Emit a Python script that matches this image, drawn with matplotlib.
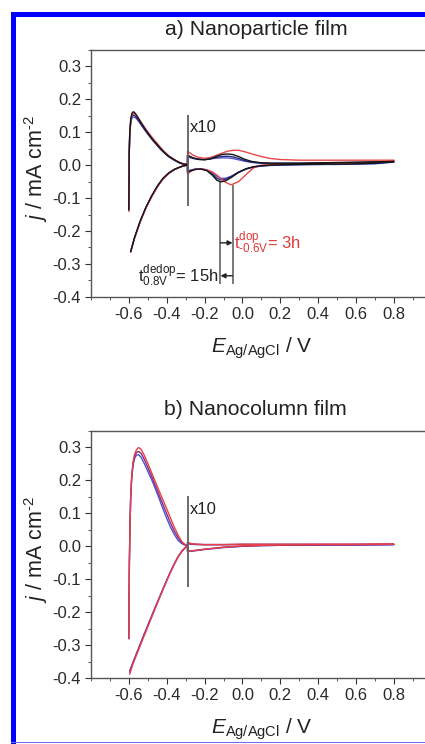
import numpy as np
import matplotlib
matplotlib.use("Agg")
import matplotlib.pyplot as plt
from matplotlib.patches import Rectangle
from matplotlib.ticker import MultipleLocator, FixedLocator

plt.rcParams['font.family'] = ['Liberation Sans', 'DejaVu Sans']
plt.rcParams['mathtext.fontset'] = 'custom'
plt.rcParams['mathtext.rm'] = 'Liberation Sans'
plt.rcParams['mathtext.it'] = 'Liberation Sans:italic'
plt.rcParams['axes.unicode_minus'] = False

# ---------------- data: panel a (nanoparticle film) ----------------
# x10 break in potential
v_break = -0.29

# anodic scan, left part (true current)
va_an_left = [-0.600, -0.599, -0.598, -0.595, -0.590, -0.584, -0.577, -0.570, -0.560, -0.545,
              -0.530, -0.510, -0.490, -0.470, -0.450, -0.430, -0.410, -0.390, -0.370, -0.350,
              -0.330, -0.310, -0.290]
# anodic scan, right part (shown x10)
va_an_right = [-0.290, -0.280, -0.260, -0.230, -0.200, -0.170, -0.140, -0.110, -0.080, -0.050,
               -0.020, 0.010, 0.050, 0.100, 0.150, 0.200, 0.300, 0.400, 0.500, 0.600, 0.700, 0.800]
# cathodic scan, right part (shown x10)
va_ca_right = [0.800, 0.700, 0.600, 0.500, 0.400, 0.300, 0.200, 0.150, 0.100, 0.060, 0.020,
               -0.020, -0.060, -0.090, -0.115, -0.135, -0.160, -0.190, -0.220, -0.250, -0.275, -0.290]
# cathodic scan, left part (true current)
va_ca_left = [-0.290, -0.310, -0.330, -0.360, -0.390, -0.420, -0.450, -0.480, -0.510, -0.540,
              -0.570, -0.590]

a_black = dict(
    an_left=[-0.135, -0.05, 0.04, 0.10, 0.14, 0.157, 0.162, 0.160, 0.152, 0.138, 0.124, 0.106,
             0.090, 0.075, 0.062, 0.049, 0.037, 0.027, 0.020, 0.013, 0.007, 0.003, 0.002],
    an_right=[0.030, 0.027, 0.021, 0.017, 0.016, 0.019, 0.026, 0.032, 0.034, 0.032, 0.026, 0.018,
              0.011, 0.007, 0.006, 0.006, 0.006, 0.007, 0.008, 0.009, 0.010, 0.011],
    ca_right=[0.011, 0.006, 0.004, 0.003, 0.003, 0.002, 0.001, 0.000, -0.002, -0.005, -0.011,
              -0.022, -0.038, -0.048, -0.051, -0.046, -0.030, -0.016, -0.012, -0.013, -0.018, -0.022],
    ca_left=[0.000, -0.002, -0.006, -0.013, -0.024, -0.040, -0.064, -0.094, -0.128, -0.170,
             -0.220, -0.263],
)
a_navy = dict(
    an_left=[-0.135, -0.05, 0.035, 0.095, 0.132, 0.148, 0.152, 0.151, 0.145, 0.133, 0.120, 0.103,
             0.088, 0.073, 0.060, 0.047, 0.036, 0.026, 0.019, 0.012, 0.006, 0.003, 0.002],
    an_right=[0.030, 0.027, 0.022, 0.018, 0.017, 0.019, 0.023, 0.026, 0.027, 0.025, 0.020, 0.014,
              0.009, 0.006, 0.005, 0.005, 0.005, 0.006, 0.007, 0.008, 0.009, 0.010],
    ca_right=[0.010, 0.005, 0.004, 0.003, 0.002, 0.002, 0.001, 0.000, -0.002, -0.005, -0.011,
              -0.021, -0.035, -0.043, -0.045, -0.040, -0.027, -0.015, -0.012, -0.013, -0.017, -0.020],
    ca_left=[0.000, -0.002, -0.006, -0.013, -0.025, -0.041, -0.065, -0.095, -0.129, -0.171,
             -0.221, -0.262],
)
a_blue = dict(
    an_left=[-0.135, -0.05, 0.03, 0.09, 0.127, 0.142, 0.146, 0.146, 0.141, 0.130, 0.118, 0.102,
             0.087, 0.073, 0.060, 0.047, 0.036, 0.026, 0.018, 0.012, 0.006, 0.003, 0.002],
    an_right=[0.025, 0.023, 0.020, 0.018, 0.018, 0.019, 0.021, 0.022, 0.022, 0.020, 0.016, 0.012,
              0.008, 0.006, 0.005, 0.005, 0.005, 0.006, 0.006, 0.007, 0.008, 0.009],
    ca_right=[0.009, 0.004, 0.003, 0.002, 0.002, 0.001, 0.000, -0.001, -0.003, -0.006, -0.012,
              -0.022, -0.034, -0.040, -0.040, -0.034, -0.023, -0.014, -0.011, -0.012, -0.015, -0.018],
    ca_left=[0.000, -0.002, -0.006, -0.014, -0.025, -0.042, -0.066, -0.096, -0.130, -0.172,
             -0.222, -0.262],
)
a_red = dict(
    an_left=[-0.14, -0.05, 0.035, 0.095, 0.135, 0.152, 0.157, 0.157, 0.151, 0.139, 0.126, 0.109,
             0.094, 0.079, 0.066, 0.052, 0.040, 0.029, 0.021, 0.014, 0.008, 0.004, 0.002],
    an_right=[0.043, 0.038, 0.030, 0.023, 0.021, 0.023, 0.029, 0.036, 0.042, 0.045, 0.045, 0.041,
              0.034, 0.026, 0.020, 0.017, 0.015, 0.015, 0.015, 0.015, 0.015, 0.015],
    ca_right=[0.012, 0.008, 0.006, 0.005, 0.005, 0.004, 0.003, 0.002, 0.000, -0.008, -0.028,
              -0.050, -0.060, -0.052, -0.040, -0.030, -0.020, -0.014, -0.012, -0.013, -0.019, -0.028],
    ca_left=[0.000, -0.002, -0.006, -0.014, -0.026, -0.043, -0.067, -0.097, -0.131, -0.172,
             -0.222, -0.262],
)

# ---------------- data: panel b (nanocolumn film) ----------------
vb_an_left = [-0.600, -0.599, -0.597, -0.594, -0.590, -0.585, -0.578, -0.570, -0.560, -0.548,
              -0.535, -0.520, -0.500, -0.480, -0.460, -0.440, -0.420, -0.400, -0.380, -0.360,
              -0.340, -0.320, -0.305, -0.290]
vb_an_right = [-0.290, -0.270, -0.240, -0.200, -0.150, -0.100, 0.000, 0.100, 0.200, 0.400, 0.600, 0.800]
vb_ca_right = [0.800, 0.600, 0.400, 0.200, 0.100, 0.000, -0.100, -0.150, -0.200, -0.240, -0.270, -0.290]
vb_ca_left = [-0.290, -0.300, -0.320, -0.340, -0.360, -0.380, -0.400, -0.420, -0.440, -0.460,
              -0.480, -0.500, -0.520, -0.540, -0.560, -0.580, -0.595]

b_blue = dict(
    an_left=[-0.280, -0.180, -0.050, 0.060, 0.150, 0.205, 0.245, 0.266, 0.277, 0.278, 0.270,
             0.253, 0.228, 0.203, 0.175, 0.145, 0.114, 0.085, 0.058, 0.036, 0.018, 0.008, 0.004, 0.002],
    an_right=[0.008, 0.006, 0.005, 0.005, 0.005, 0.005, 0.005, 0.005, 0.005, 0.005, 0.005, 0.005],
    ca_right=[0.005, 0.004, 0.004, 0.003, 0.002, 0.000, -0.004, -0.007, -0.010, -0.013, -0.015, -0.016],
    ca_left=[0.000, -0.003, -0.015, -0.032, -0.053, -0.077, -0.103, -0.130, -0.157, -0.184,
             -0.212, -0.240, -0.268, -0.297, -0.326, -0.355, -0.378],
)
b_purple = dict(
    an_left=[-0.280, -0.180, -0.050, 0.060, 0.150, 0.207, 0.250, 0.272, 0.285, 0.288, 0.282,
             0.266, 0.240, 0.213, 0.185, 0.156, 0.127, 0.099, 0.071, 0.046, 0.026, 0.011, 0.005, 0.002],
    an_right=[0.010, 0.007, 0.006, 0.005, 0.005, 0.005, 0.006, 0.006, 0.006, 0.006, 0.006, 0.006],
    ca_right=[0.006, 0.005, 0.004, 0.003, 0.002, 0.000, -0.003, -0.006, -0.009, -0.012, -0.014, -0.015],
    ca_left=[0.000, -0.003, -0.015, -0.032, -0.054, -0.078, -0.104, -0.131, -0.158, -0.186,
             -0.214, -0.242, -0.270, -0.299, -0.328, -0.357, -0.382],
)
b_red = dict(
    an_left=[-0.280, -0.180, -0.050, 0.060, 0.150, 0.210, 0.255, 0.278, 0.293, 0.300, 0.294,
             0.278, 0.252, 0.224, 0.196, 0.168, 0.141, 0.114, 0.086, 0.058, 0.034, 0.014, 0.006, 0.003],
    an_right=[0.012, 0.008, 0.006, 0.005, 0.005, 0.005, 0.006, 0.006, 0.006, 0.006, 0.006, 0.006],
    ca_right=[0.006, 0.005, 0.005, 0.004, 0.003, 0.001, -0.003, -0.006, -0.009, -0.012, -0.014, -0.015],
    ca_left=[0.000, -0.003, -0.016, -0.033, -0.055, -0.079, -0.105, -0.132, -0.160, -0.188,
             -0.216, -0.245, -0.273, -0.302, -0.331, -0.360, -0.388],
)

# peak markers for the dop/dedop annotation in panel a
dip_v = [-0.116, -0.052]
dip_j = [-0.050, -0.060]

xticks = [-0.6, -0.4, -0.2, 0.0, 0.2, 0.4, 0.6, 0.8]
yticks = [-0.4, -0.3, -0.2, -0.1, 0.0, 0.1, 0.2, 0.3]


def loop(v_an_l, v_an_r, v_ca_r, v_ca_l, c):
    """ une los cuatro tramos del voltamograma en un solo lazo """
    v = np.concatenate([v_an_l, v_an_r, v_ca_r, v_ca_l])
    j = np.concatenate([c['an_left'], c['an_right'], c['ca_right'], c['ca_left']])
    return v, j


def style_axes(ax):
    ax.set_xlim(-0.8, 1.0)
    ax.set_ylim(-0.4, 0.35)
    ax.xaxis.set_major_locator(FixedLocator(xticks))
    ax.xaxis.set_minor_locator(MultipleLocator(0.1))
    ax.yaxis.set_major_locator(FixedLocator(yticks))
    ax.yaxis.set_minor_locator(MultipleLocator(0.05))
    ax.set_xticklabels(["%.1f" % t for t in xticks])
    ax.set_yticklabels(["%.1f" % t for t in yticks])
    ax.tick_params(which='major', direction='out', length=4, width=0.8, labelsize=12,
                   colors='#333333', labelcolor='#2a2a2a', pad=3)
    ax.tick_params(which='minor', direction='out', length=2.5, width=0.7, colors='#555555')
    for s in ax.spines.values():
        s.set_color('#555555')
        s.set_linewidth(1.0)
    ax.set_xlabel(r"$\it{E}$$_{\rm Ag/AgCl}$ / V", fontsize=15, color='#222222')
    ax.set_ylabel(r"$\it{j}$ / mA cm$^{\text{-2}}$", fontsize=15.5, color='#222222')
    ax.xaxis.set_label_coords(0.5, -0.155)
    ax.yaxis.set_label_coords(-0.12, 0.52)
    # linea del x10
    ax.vlines(v_break, -0.125, 0.152, color='#606060', lw=1.3, zorder=5)
    ax.text(v_break + 0.01, 0.113, "x10", fontsize=12, color='#222222', va='center', ha='left')


fig = plt.figure(figsize=(4.25, 7.44), dpi=100)

# ---- panel a ----
ax1 = fig.add_axes([0.214, 0.601, 0.802, 0.332])
for c, col in [(a_blue, '#5858e0'), (a_navy, '#2a2a7a'), (a_red, '#e84848'), (a_black, '#151515')]:
    v, j = loop(va_an_left, va_an_right, va_ca_right, va_ca_left, c)
    ax1.plot(v, j, color=col, lw=1.0)
style_axes(ax1)
ax1.vlines(dip_v[0], -0.36, dip_j[0], color='#555555', lw=1.1)
ax1.vlines(dip_v[1], -0.36, dip_j[1], color='#555555', lw=1.1)
ax1.annotate('', xy=(dip_v[1], -0.236), xytext=(dip_v[0], -0.236),
             arrowprops=dict(arrowstyle='-|>', color='#222222', lw=1.0, mutation_scale=7,
                             shrinkA=0, shrinkB=0))
ax1.annotate('', xy=(dip_v[0], -0.336), xytext=(dip_v[1], -0.336),
             arrowprops=dict(arrowstyle='-|>', color='#222222', lw=1.0, mutation_scale=7,
                             shrinkA=0, shrinkB=0))
ax1.text(-0.042, -0.236, r"t$^{\text{dop}}_{\text{-0.6V}}$= 3h", color='#e03838', fontsize=12,
         ha='left', va='center')
ax1.text(-0.124, -0.336, r"t$^{\text{dedop}}_{\text{0.8V}}$= 15h", color='#222222', fontsize=12,
         ha='right', va='center')

# ---- panel b ----
ax2 = fig.add_axes([0.214, 0.0887, 0.802, 0.332])
for c, col in [(b_blue, '#5050d8'), (b_purple, '#803080'), (b_red, '#e8404a')]:
    v, j = loop(vb_an_left, vb_an_right, vb_ca_right, vb_ca_left, c)
    ax2.plot(v, j, color=col, lw=1.0)
style_axes(ax2)

fig.text(0.602, 0.961, "a) Nanoparticle film", fontsize=15.3, ha='center', va='center',
         color='#222222')
fig.text(0.602, 0.449, "b) Nanocolumn film", fontsize=15.3, ha='center', va='center',
         color='#222222')

# marco azul
fig.add_artist(Rectangle((11 / 425, 0), 5 / 425, 1 - 12 / 744, transform=fig.transFigure,
                         color='#0000ff', lw=0))
fig.add_artist(Rectangle((11 / 425, 1 - 17 / 744), 1, 5 / 744, transform=fig.transFigure,
                         color='#0000ff', lw=0))
fig.add_artist(Rectangle((11 / 425, 1 / 744), 1, 1.2 / 744, transform=fig.transFigure,
                         color='#6a6aff', lw=0))

fig.savefig("out.png", dpi=100)
